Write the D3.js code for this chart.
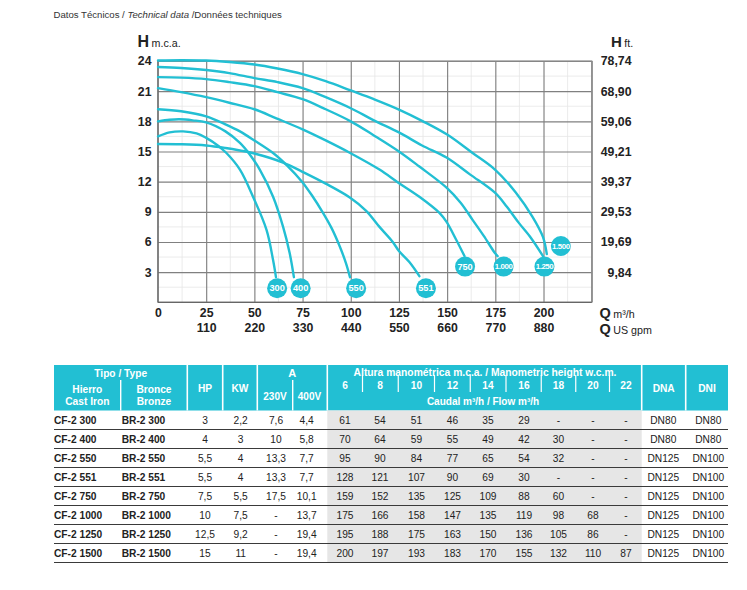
<!DOCTYPE html>
<html><head><meta charset="utf-8">
<script src="https://cdn.jsdelivr.net/npm/d3@7/dist/d3.min.js"></script>
<style>
body{margin:0;background:#fff;}
svg{display:block;font-family:"Liberation Sans",Arial,sans-serif;}
</style></head><body>
<svg id="c" width="747" height="590"></svg>
<script>
// ---------- chart data ----------
const flowTicks = [0, 25, 50, 75, 100, 125, 150, 175, 200];
const gpmTicks = [25, 50, 75, 100, 125, 150, 175, 200];
const gpmLabels = ["110", "220", "330", "440", "550", "660", "770", "880"];
const headTicks = [3, 6, 9, 12, 15, 18, 21, 24];
const ftLabels = ["9,84", "19,69", "29,53", "39,37", "49,21", "59,06", "68,90", "78,74"];

const curve300 = [[0,16.5],[6,16.9],[13,17.0],[20,16.8],[25,16.35],[31,15.6],[35.5,14.85],[42.5,13.2],[49.3,10.5],[56.3,7.2],[59.7,4.2],[61.2,2.5]];
const curve400 = [[0,18.0],[6,18.15],[11,18.2],[18,18.1],[25,17.9],[35,17.0],[42.5,15.85],[47.6,14.7],[52.8,13.2],[59.7,10.5],[64.9,7.5],[68.3,4.9],[70.5,2.5]];
const curve550 = [[0,19.2],[12,19.0],[25,18.5],[35,17.7],[42.5,17.0],[50,16.1],[59.7,14.85],[67,13.6],[74.7,12.0],[80,10.6],[85.6,8.9],[90,7.4],[94.2,5.6],[97.5,3.9],[99.6,2.5]];
const curve551 = [[0,15.75],[12,15.72],[25,15.6],[35,15.35],[42.5,15.1],[50,14.8],[64.9,13.9],[74.7,13.0],[87,11.8],[99.7,10.4],[108,9.1],[114.9,7.5],[121.8,6.0],[125,5.1],[130.4,4.0],[135.6,2.6]];
const curve750 = [[0,21.3],[12,20.9],[25,20.4],[37,19.85],[50,19.2],[61.4,18.3],[75,17.2],[87,16.1],[99.7,14.85],[114.9,13.2],[124.7,11.9],[135.6,10.5],[146,8.9],[149.7,8.0],[154.5,6.3],[159,4.6]];
const curve1000 = [[0,22.4],[12,22.35],[25,22.2],[37,21.9],[50,21.5],[62,20.9],[75,20.2],[87,19.2],[100,18.0],[112,16.6],[125,15.0],[135.6,13.5],[149.7,11.4],[157,9.9],[163.2,8.2],[169,6.6],[174.8,4.9],[176.2,4.6]];
const curve1250 = [[0,23.4],[12,23.3],[25,23.1],[37,22.8],[50,22.3],[62,21.9],[75,21.3],[87,20.4],[100,19.3],[112,18.1],[125,16.9],[137,15.6],[149.7,14.4],[162,12.7],[174.8,10.9],[181,9.5],[187.2,7.9],[193.5,6.4],[199.7,4.6]];
const curve1500 = [[0,24.05],[12,24.08],[25,24.05],[37,23.9],[50,23.65],[62,23.25],[75,22.7],[87,22.0],[100,21.07],[112,20.2],[125,19.17],[137.5,18.0],[150,16.68],[163.2,14.85],[174.8,13.2],[185.7,10.9],[194.3,8.5],[199.7,6.5],[201.7,4.8]];
const curves = [curve300, curve400, curve550, curve551, curve750, curve1000, curve1250, curve1500];

const badgeLabels = ["300", "400", "550", "551", "750", "1.000", "1.250", "1.500"];
const badgeQ = [61.8, 74, 102.8, 139, 159.3, 179.3, 200.5, 209];
const badgeH = [1.4, 1.4, 1.4, 1.4, 3.55, 3.55, 3.55, 5.6];

// ---------- table data ----------
const castIron = ["CF-2 300", "CF-2 400", "CF-2 550", "CF-2 551", "CF-2 750", "CF-2 1000", "CF-2 1250", "CF-2 1500"];
const bronze = ["BR-2 300", "BR-2 400", "BR-2 550", "BR-2 551", "BR-2 750", "BR-2 1000", "BR-2 1250", "BR-2 1500"];
const hp = ["3", "4", "5,5", "5,5", "7,5", "10", "12,5", "15"];
const kw = ["2,2", "3", "4", "4", "5,5", "7,5", "9,2", "11"];
const amp230 = ["7,6", "10", "13,3", "13,3", "17,5", "-", "-", "-"];
const amp400 = ["4,4", "5,8", "7,7", "7,7", "10,1", "13,7", "19,4", "19,4"];
const heightCols = ["6", "8", "10", "12", "14", "16", "18", "20", "22"];
const flow300 = ["61", "54", "51", "46", "35", "29", "-", "-", "-"];
const flow400 = ["70", "64", "59", "55", "49", "42", "30", "-", "-"];
const flow550 = ["95", "90", "84", "77", "65", "54", "32", "-", "-"];
const flow551 = ["128", "121", "107", "90", "69", "30", "-", "-", "-"];
const flow750 = ["159", "152", "135", "125", "109", "88", "60", "-", "-"];
const flow1000 = ["175", "166", "158", "147", "135", "119", "98", "68", "-"];
const flow1250 = ["195", "188", "175", "163", "150", "136", "105", "86", "-"];
const flow1500 = ["200", "197", "193", "183", "170", "155", "132", "110", "87"];
const flowRows = [flow300, flow400, flow550, flow551, flow750, flow1000, flow1250, flow1500];
const dna = ["DN80", "DN80", "DN125", "DN125", "DN125", "DN125", "DN125", "DN125"];
const dni = ["DN80", "DN80", "DN100", "DN100", "DN100", "DN100", "DN100", "DN100"];

// ---------- drawing ----------
const svg = d3.select("#c");
const CYAN = "#22bfd3";
const X0 = 158, X1 = 591.7, Y0 = 302.3, Y1 = 61;
const x = d3.scaleLinear().domain([0, 225]).range([X0, X1]);
const y = d3.scaleLinear().domain([0, 24]).range([Y0, Y1]);

// title
const t = svg.append("text").attr("x", 53.5).attr("y", 17.5).attr("font-size", 9.6).attr("fill", "#333");
t.append("tspan").text("Datos Técnicos / ");
t.append("tspan").attr("font-style", "italic").text("Technical data");
t.append("tspan").text(" /Données techniques");

// minor grid
const minorX = d3.range(12.5, 225, 25);
const minorY = d3.range(1.5, 24, 3);
svg.append("g").selectAll("line").data(minorX).join("line")
  .attr("x1", d => x(d)).attr("x2", d => x(d)).attr("y1", Y1).attr("y2", Y0)
  .attr("stroke", "#e6e6e6").attr("stroke-width", 0.8);
svg.append("g").selectAll("line").data(minorY).join("line")
  .attr("y1", d => y(d)).attr("y2", d => y(d)).attr("x1", X0).attr("x2", X1)
  .attr("stroke", "#e6e6e6").attr("stroke-width", 0.8);

// major grid via axes
const gx = svg.append("g").attr("transform", `translate(0,${Y0})`)
  .call(d3.axisBottom(x).tickValues(d3.range(25, 226, 25)).tickSize(-(Y0 - Y1)).tickFormat(""));
const gy = svg.append("g").attr("transform", `translate(${X0},0)`)
  .call(d3.axisLeft(y).tickValues(d3.range(3, 25, 3)).tickSize(-(X1 - X0)).tickFormat(""));
[gx, gy].forEach(g => { g.select(".domain").remove(); g.selectAll("line").attr("stroke", "#808080").attr("stroke-width", 1.15); });

// frame
svg.append("rect").attr("x", X0).attr("y", Y1).attr("width", X1 - X0).attr("height", Y0 - Y1)
  .attr("fill", "none").attr("stroke", "#8a8a8a").attr("stroke-width", 1.2);
svg.append("line").attr("x1", X0).attr("x2", X0).attr("y1", Y1).attr("y2", Y0).attr("stroke", "#666").attr("stroke-width", 1.3);
svg.append("line").attr("x1", X0).attr("x2", X1).attr("y1", Y0).attr("y2", Y0).attr("stroke", "#666").attr("stroke-width", 1.3);

// axis labels
function styleAxis(g) {
  g.select(".domain").remove();
  g.selectAll("line").remove();
  g.selectAll("text").attr("font-family", "Liberation Sans, Arial, sans-serif")
    .attr("font-size", 12.3).attr("font-weight", "bold").attr("fill", "#222");
}
const la = svg.append("g").attr("transform", `translate(${X0},0)`)
  .call(d3.axisLeft(y).tickValues(headTicks).tickSize(0).tickPadding(6.5).tickFormat(d3.format("d")));
styleAxis(la);
const ra = svg.append("g").attr("transform", `translate(${X1},0)`)
  .call(d3.axisRight(y).tickValues(headTicks).tickSize(0).tickFormat((d, i) => ftLabels[i]));
styleAxis(ra);
ra.selectAll("text").attr("text-anchor", "end").attr("x", 631.5 - X1);
const ba = svg.append("g").attr("transform", `translate(0,${Y0})`)
  .call(d3.axisBottom(x).tickValues(flowTicks).tickSize(0).tickFormat(d3.format("d")));
styleAxis(ba);
ba.selectAll("text").attr("y", 14.4).attr("dy", 0);
const ga = svg.append("g").attr("transform", `translate(0,${Y0})`)
  .call(d3.axisBottom(x).tickValues(gpmTicks).tickSize(0).tickFormat((d, i) => gpmLabels[i]));
styleAxis(ga);
ga.selectAll("text").attr("y", 29.8).attr("dy", 0);

// unit labels
function unit(xp, yp, big, bigSize, small) {
  const tx = svg.append("text").attr("x", xp).attr("y", yp).attr("fill", "#222");
  tx.append("tspan").attr("font-size", bigSize).attr("font-weight", "bold").text(big);
  tx.append("tspan").attr("font-size", 10.7).attr("dx", 2.5).text(small);
}
unit(137.5, 47.3, "H", 16, "m.c.a.");
unit(611, 47.3, "H", 15, "ft.");
unit(599.5, 318, "Q", 14.5, "m³/h");
unit(599.5, 333.5, "Q", 14.5, "US gpm");

// curves
const line = d3.line().x(d => x(d[0])).y(d => y(d[1])).curve(d3.curveCatmullRom.alpha(0.5));
svg.append("g").selectAll("path").data(curves).join("path")
  .attr("d", line).attr("fill", "none").attr("stroke", CYAN).attr("stroke-width", 2.4)
  .attr("stroke-linecap", "round");

// badges
const bg = svg.append("g").selectAll("g").data(badgeLabels).join("g")
  .attr("transform", (d, i) => `translate(${x(badgeQ[i])},${y(badgeH[i])})`);
bg.append("circle").attr("r", 10).attr("fill", CYAN);
bg.append("text").attr("text-anchor", "middle").attr("dy", d => d.length > 3 ? 2.8 : 3.2)
  .attr("font-size", d => d.length > 3 ? 7.9 : 9.2).attr("font-weight", "bold").attr("fill", "#fff")
  .attr("letter-spacing", d => d.length > 3 ? -0.45 : 0).text(d => d);

// ---------- table ----------
const TX0 = 54, TX1 = 728, HY0 = 365, HY1 = 410.5, ROWH = 19;
const hdr = svg.append("g");
hdr.append("rect").attr("x", TX0).attr("y", HY0).attr("width", TX1 - TX0).attr("height", HY1 - HY0).attr("fill", CYAN);
const fullSeps = [187.3, 222.7, 257.3, 327.3, 641.7, 685.7];
hdr.selectAll("line.f").data(fullSeps).join("line").attr("class", "f")
  .attr("x1", d => d).attr("x2", d => d).attr("y1", HY0).attr("y2", HY1)
  .attr("stroke", "#fff").attr("stroke-width", 1.6);
const partSeps = [120.7, 292.7];
hdr.selectAll("line.p").data(partSeps).join("line").attr("class", "p")
  .attr("x1", d => d).attr("x2", d => d).attr("y1", 380).attr("y2", HY1)
  .attr("stroke", "#fff").attr("stroke-width", 1.4);
const colC = [345, 380, 416.5, 452.5, 488, 524, 558.5, 593, 626];
const hSeps = colC.slice(1).map((c, i) => (c + colC[i]) / 2);
hdr.selectAll("line.h").data(hSeps).join("line").attr("class", "h")
  .attr("x1", d => d).attr("x2", d => d).attr("y1", 375).attr("y2", 392)
  .attr("stroke", "#fff").attr("stroke-width", 1.2);

function htext(xp, yc, s, size, weight, anchor) {
  hdr.append("text").attr("x", xp).attr("y", yc + size * 0.36).attr("text-anchor", anchor || "middle")
    .attr("font-size", size).attr("font-weight", weight || "bold").attr("fill", "#fff").text(s);
}
htext(120.7, 373, "Tipo / Type", 10.2);
htext(87.3, 389.3, "Hierro", 10.2);
htext(87.3, 401.7, "Cast Iron", 10.2);
htext(154, 389.3, "Bronce", 10.2);
htext(154, 401.7, "Bronze", 10.2);
htext(205, 388.3, "HP", 10.2);
htext(240, 388.3, "KW", 10.2);
htext(292.3, 373, "A", 11);
htext(275, 396, "230V", 10);
htext(309.5, 396, "400V", 10);
htext(485, 372.7, "Altura manométrica m.c.a. / Manometric height w.c.m.", 10.3);
heightCols.forEach((h, i) => htext(colC[i], 385, h, 10.2));
htext(483, 401.7, "Caudal m³/h / Flow m³/h", 10);
htext(663.7, 388.3, "DNA", 10.2);
htext(707, 388.3, "DNI", 10.2);

const body = svg.append("g");
body.append("rect").attr("x", 327.3).attr("y", HY1).attr("width", 641.7 - 327.3)
  .attr("height", ROWH * castIron.length).attr("fill", "#e6e6e6");
const rowY = i => HY1 + ROWH * i;
body.selectAll("line").data(castIron).join("line")
  .attr("x1", TX0).attr("x2", TX1).attr("y1", (d, i) => rowY(i + 1)).attr("y2", (d, i) => rowY(i + 1))
  .attr("stroke", "#3a3a3a").attr("stroke-width", 1);

function btext(xp, yc, s, anchor, weight) {
  body.append("text").attr("x", xp).attr("y", yc + 3.7).attr("text-anchor", anchor || "middle")
    .attr("font-size", 10.2).attr("font-weight", weight || "normal").attr("fill", "#222").text(s);
}
castIron.forEach((name, i) => {
  const yc = rowY(i) + 9.8;
  btext(54, yc, name, "start", "bold");
  btext(121.7, yc, bronze[i], "start", "bold");
  btext(205, yc, hp[i]);
  btext(240.7, yc, kw[i]);
  btext(276, yc, amp230[i]);
  btext(306.7, yc, amp400[i]);
  flowRows[i].forEach((v, j) => btext(colC[j], yc, v));
  btext(663.3, yc, dna[i]);
  btext(708.3, yc, dni[i]);
});
</script>
</body></html>
